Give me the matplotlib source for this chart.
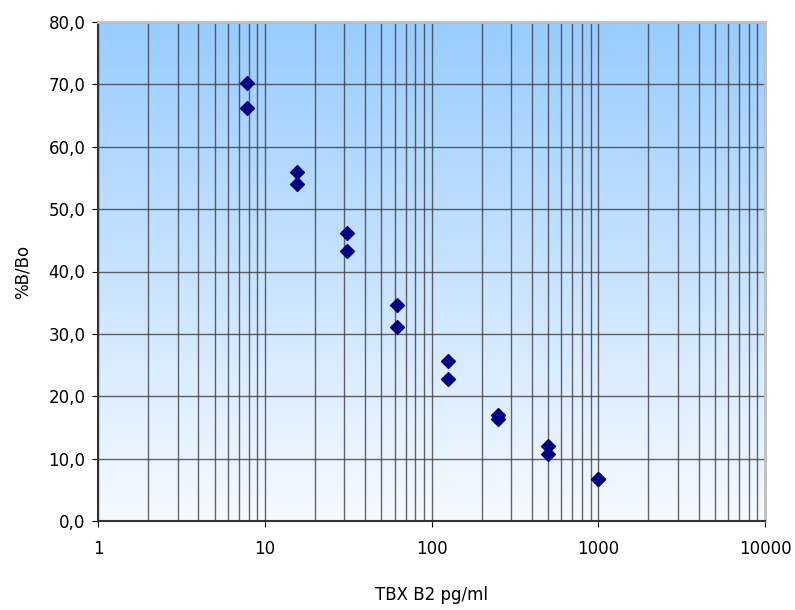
import matplotlib
matplotlib.use('Agg')
import matplotlib.pyplot as plt
import numpy as np
from matplotlib.ticker import FixedLocator, LogLocator, NullFormatter

# concentrations (pg/ml) and %B/Bo, duplicates
conc = [7.8125, 7.8125, 15.625, 15.625, 31.25, 31.25, 62.5, 62.5,
        125, 125, 250, 250, 500, 500, 1000, 1000]
bbo = [70.2, 66.2, 55.9, 54.1, 46.2, 43.3, 34.6, 31.1,
       25.6, 22.8, 17.0, 16.3, 12.0, 10.7, 6.7, 6.7]

xticks = [1, 10, 100, 1000, 10000]
xticklabels = ['1', '10', '100', '1000', '10000']
yticks = [0, 10, 20, 30, 40, 50, 60, 70, 80]
yticklabels = [('%.1f' % v).replace('.', ',') for v in yticks]

plt.rcParams['font.family'] = ['DejaVu Sans']

fig = plt.figure(figsize=(7.95, 6.10), dpi=100)
ax = fig.add_axes([98 / 795, 89 / 610, 667 / 795, 499 / 610])

# vertical gradient background
grad = np.linspace(0, 1, 256).reshape(-1, 1)
top = np.array([0x99, 0xCC, 0xFF]) / 255
bot = np.array([0xF6, 0xFA, 0xFF]) / 255
img = top + (bot - top) * grad[:, :, None]
ax.imshow(img, extent=[0, 1, 0, 1], transform=ax.transAxes, aspect='auto', zorder=0)

ax.set_xscale('log')
ax.set_xlim(1, 10000)
ax.set_ylim(0, 80)

ax.xaxis.set_major_locator(FixedLocator(xticks))
ax.set_xticklabels(xticklabels)
ax.xaxis.set_minor_locator(LogLocator(base=10, subs=np.arange(2, 10)))
ax.xaxis.set_minor_formatter(NullFormatter())
ax.set_yticks(yticks)
ax.set_yticklabels(yticklabels)

ax.grid(True, which='major', color='#333333', linewidth=1.0, alpha=0.75)
ax.grid(True, which='minor', axis='x', color='#333333', linewidth=1.0, alpha=0.75)

ax.scatter(conc, bbo, marker='D', s=50, color='#000080', zorder=5)

ax.tick_params(axis='both', which='major', direction='out', length=4, labelsize=12, colors='black')
ax.tick_params(axis='x', which='minor', length=0)
ax.tick_params(axis='x', pad=10)
ax.tick_params(axis='y', pad=5)

for s in ['left', 'bottom']:
    ax.spines[s].set_color('#333333')
    ax.spines[s].set_linewidth(1.5)
for s in ['top', 'right']:
    ax.spines[s].set_color('#c0c0c0')
    ax.spines[s].set_linewidth(2)

ax.set_xlabel('TBX B2 pg/ml', fontsize=12, labelpad=20)
ax.set_ylabel('%B/Bo', fontsize=12, labelpad=12)

fig.savefig('out.png', dpi=100)
